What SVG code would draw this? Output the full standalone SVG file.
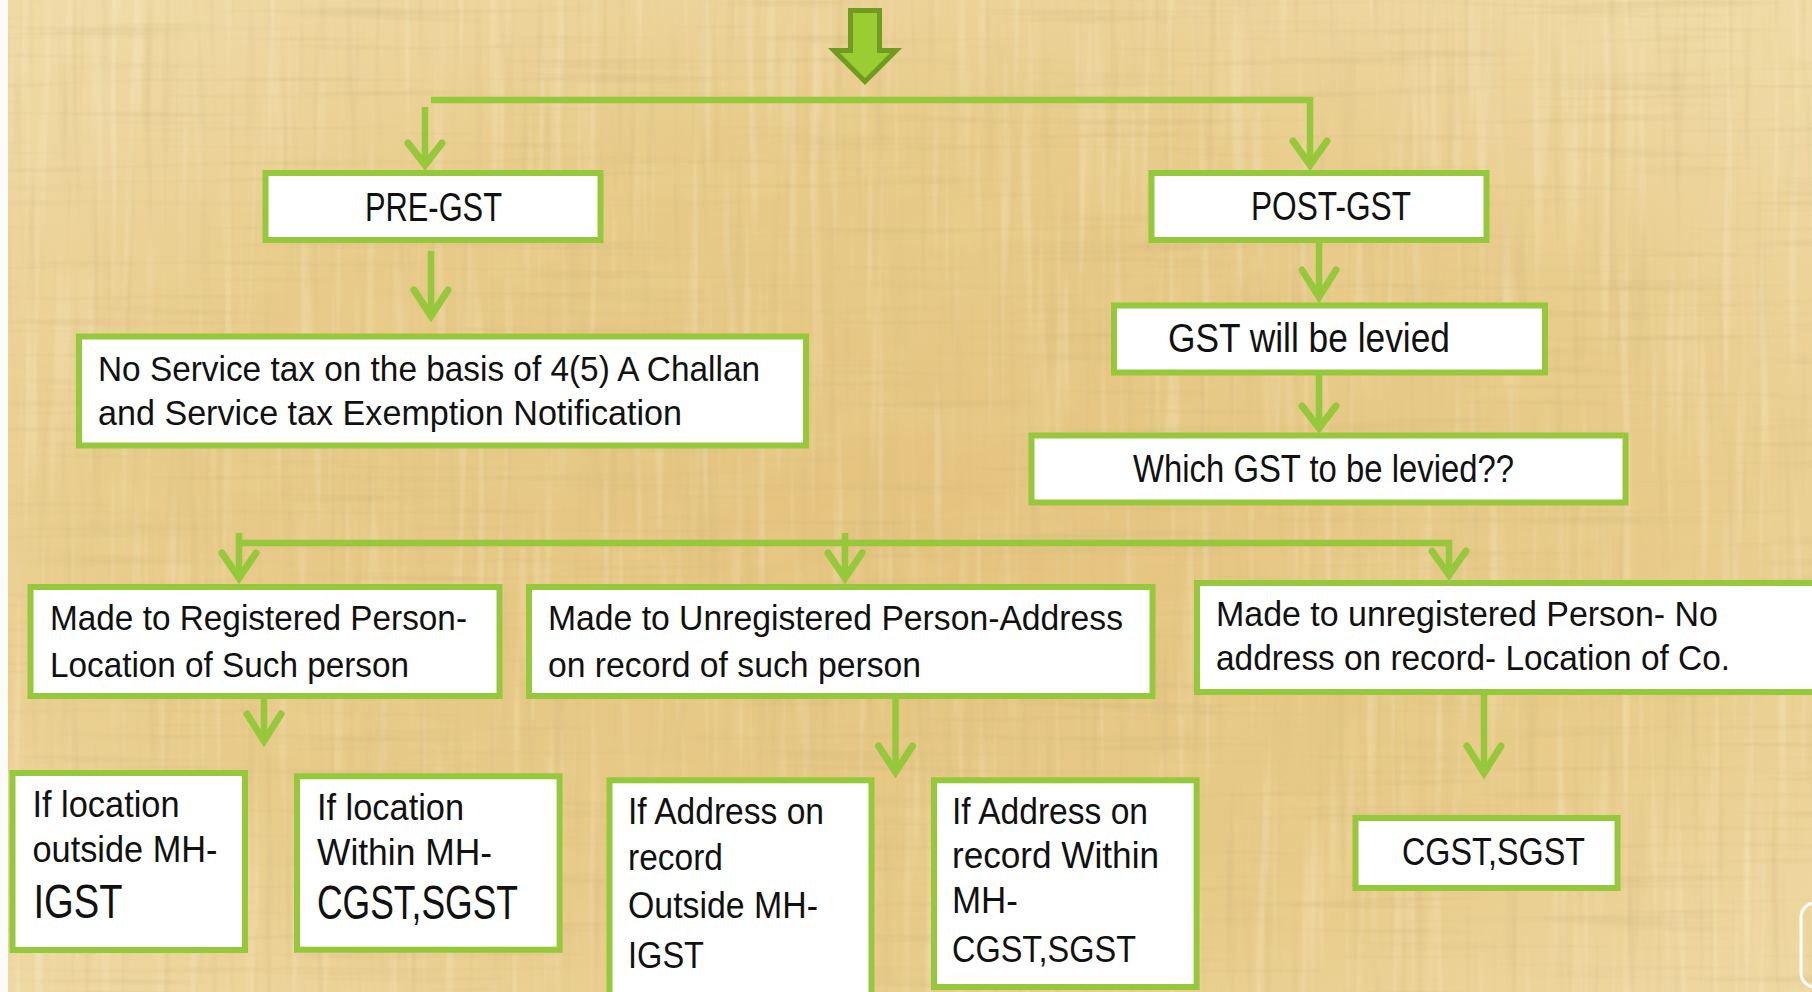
<svg xmlns="http://www.w3.org/2000/svg" width="1812" height="992" viewBox="0 0 1812 992">
<style>
.box{fill:#ffffff;stroke:#95c83a;stroke-width:6}
.t{font-family:"Liberation Sans",Arial,sans-serif;fill:#111111}
.ln{stroke:#95c83a;stroke-width:6.5;fill:none;stroke-linecap:butt}
.hd{stroke:#95c83a;stroke-width:7;fill:none;stroke-linecap:round;stroke-linejoin:miter;stroke-miterlimit:10}
</style>
<defs>
<radialGradient id="bg" cx="50%" cy="55%" r="70%">
<stop offset="0" stop-color="#e4c37d"/>
<stop offset="0.6" stop-color="#e8cb8a"/>
<stop offset="1" stop-color="#f0dba8"/>
</radialGradient>
<filter id="fibV" x="0" y="0" width="1812" height="992" filterUnits="userSpaceOnUse">
<feTurbulence type="fractalNoise" baseFrequency="0.11 0.005" numOctaves="2" seed="7"/>
<feColorMatrix type="matrix" values="0 0 0 0 0.62  0 0 0 0 0.48  0 0 0 0 0.22  1.7 0 0 0 -0.9"/>
</filter>
<filter id="fibL" x="0" y="0" width="1812" height="992" filterUnits="userSpaceOnUse">
<feTurbulence type="fractalNoise" baseFrequency="0.09 0.004" numOctaves="2" seed="19"/>
<feColorMatrix type="matrix" values="0 0 0 0 1  0 0 0 0 0.95  0 0 0 0 0.8  0 1.6 0 0 -0.85"/>
</filter>
<filter id="fibH" x="0" y="0" width="1812" height="992" filterUnits="userSpaceOnUse">
<feTurbulence type="fractalNoise" baseFrequency="0.004 0.12" numOctaves="2" seed="3"/>
<feColorMatrix type="matrix" values="0 0 0 0 0.6  0 0 0 0 0.46  0 0 0 0 0.2  0 0 1.6 0 -0.88"/>
</filter>
<filter id="blot" x="0" y="0" width="1812" height="992" filterUnits="userSpaceOnUse">
<feTurbulence type="fractalNoise" baseFrequency="0.012 0.02" numOctaves="3" seed="11"/>
<feColorMatrix type="matrix" values="0 0 0 0 0.85  0 0 0 0 0.66  0 0 0 0 0.3  1.5 0 0 0 -0.7"/>
</filter>
</defs>

<!-- background -->
<rect x="0" y="0" width="1812" height="992" fill="url(#bg)"/>
<rect x="0" y="0" width="1812" height="992" filter="url(#blot)" opacity="0.5"/>
<rect x="0" y="0" width="1812" height="992" filter="url(#fibV)" opacity="0.5"/>
<rect x="0" y="0" width="1812" height="992" filter="url(#fibL)" opacity="0.5"/>
<rect x="0" y="0" width="1812" height="992" filter="url(#fibH)" opacity="0.55"/>
<rect x="0" y="0" width="8" height="992" fill="#fbfbf8"/>
<rect x="1801" y="903" width="40" height="84" rx="14" fill="none" stroke="#ffffff" stroke-width="3"/>

<!-- top block arrow -->
<g id="start-arrow">
<polygon points="850.5,10.5 879.5,10.5 879.5,50.5 896,50.5 865,81.5 834,50.5 850.5,50.5" fill="#9acd32" stroke="#6e9b20" stroke-width="5" stroke-linejoin="miter"/>
</g>

<g id="connectors">
<line class="ln" x1="431" y1="100" x2="1313" y2="100"/>
<line class="ln" x1="425" y1="107" x2="425" y2="164"/>
<path class="hd" d="M408,143 L425,165 L442,143"/>
<line class="ln" x1="1310" y1="97" x2="1310" y2="164"/>
<path class="hd" d="M1293,141 L1310,165 L1327,141"/>
<line class="ln" x1="431" y1="251" x2="431" y2="315"/>
<path class="hd" d="M414,290 L431,316 L448,290"/>
<line class="ln" x1="1319" y1="243" x2="1319" y2="296"/>
<path class="hd" d="M1302,270 L1319,297 L1336,270"/>
<line class="ln" x1="1319" y1="375" x2="1319" y2="427"/>
<path class="hd" d="M1302,406 L1319,428 L1336,406"/>
<line class="ln" x1="236" y1="543" x2="1452" y2="543"/>
<line class="ln" x1="239" y1="533" x2="239" y2="577"/>
<path class="hd" d="M222,553 L239,578 L256,553"/>
<line class="ln" x1="845" y1="533" x2="845" y2="577"/>
<path class="hd" d="M828,553 L845,578 L862,553"/>
<line class="ln" x1="1449" y1="540" x2="1449" y2="574"/>
<path class="hd" d="M1432,551 L1449,575 L1466,551"/>
<line class="ln" x1="264" y1="693" x2="264" y2="740"/>
<path class="hd" d="M247,714 L264,741 L281,714"/>
<line class="ln" x1="895.5" y1="693" x2="895.5" y2="771"/>
<path class="hd" d="M878.5,746 L895.5,772 L912.5,746"/>
<line class="ln" x1="1484" y1="695" x2="1484" y2="772"/>
<path class="hd" d="M1467,746 L1484,773 L1501,746"/>
</g>

<g id="pre-gst">
<rect class="box" x="265.5" y="173" width="335" height="67"/>
<text class="t" x="365" y="221" font-size="40" textLength="137" lengthAdjust="spacingAndGlyphs">PRE-GST</text>
</g>

<g id="post-gst">
<rect class="box" x="1151.5" y="173" width="335" height="67"/>
<text class="t" x="1251" y="220" font-size="40" textLength="160" lengthAdjust="spacingAndGlyphs">POST-GST</text>
</g>

<g id="gst-levied">
<rect class="box" x="1114" y="305.5" width="431" height="67"/>
<text class="t" x="1168" y="352" font-size="40" textLength="282" lengthAdjust="spacingAndGlyphs">GST will be levied</text>
</g>

<g id="which-gst">
<rect class="box" x="1031.5" y="435.5" width="594" height="67"/>
<text class="t" x="1133" y="482" font-size="38" textLength="381" lengthAdjust="spacingAndGlyphs">Which GST to be levied??</text>
</g>

<g id="no-service-tax">
<rect class="box" x="79" y="336.5" width="727" height="109"/>
<text class="t" x="98" y="381" font-size="35" textLength="662" lengthAdjust="spacingAndGlyphs">No Service tax on the basis of 4(5) A Challan</text>
<text class="t" x="98" y="425" font-size="35" textLength="584" lengthAdjust="spacingAndGlyphs">and Service tax Exemption Notification</text>
</g>

<g id="registered">
<rect class="box" x="30.5" y="587" width="469" height="109"/>
<text class="t" x="50" y="630" font-size="35" textLength="417" lengthAdjust="spacingAndGlyphs">Made to Registered Person-</text>
<text class="t" x="50" y="677" font-size="35" textLength="359" lengthAdjust="spacingAndGlyphs">Location of Such person</text>
</g>

<g id="unregistered-address">
<rect class="box" x="529" y="587" width="623.5" height="109"/>
<text class="t" x="548" y="630" font-size="35" textLength="575" lengthAdjust="spacingAndGlyphs">Made to Unregistered Person-Address</text>
<text class="t" x="548" y="677" font-size="35" textLength="373" lengthAdjust="spacingAndGlyphs">on record of such person</text>
</g>

<g id="unregistered-no-address">
<rect class="box" x="1197" y="583" width="640" height="109"/>
<text class="t" x="1216" y="626" font-size="35" textLength="502" lengthAdjust="spacingAndGlyphs">Made to unregistered Person- No</text>
<text class="t" x="1216" y="670" font-size="35" textLength="514" lengthAdjust="spacingAndGlyphs">address on record- Location of Co.</text>
</g>

<g id="location-outside">
<rect class="box" x="12.5" y="773" width="232.5" height="177"/>
<text class="t" x="32.5" y="817" font-size="36" textLength="147" lengthAdjust="spacingAndGlyphs">If location</text>
<text class="t" x="32.5" y="862" font-size="36" textLength="185" lengthAdjust="spacingAndGlyphs">outside MH-</text>
<text class="t" x="33.5" y="918" font-size="48" textLength="89" lengthAdjust="spacingAndGlyphs">IGST</text>
</g>

<g id="location-within">
<rect class="box" x="297" y="776.3" width="262.6" height="173.4"/>
<text class="t" x="317" y="820" font-size="36" textLength="147" lengthAdjust="spacingAndGlyphs">If location</text>
<text class="t" x="317" y="865" font-size="36" textLength="175" lengthAdjust="spacingAndGlyphs">Within MH-</text>
<text class="t" x="317" y="919" font-size="48" textLength="201" lengthAdjust="spacingAndGlyphs">CGST,SGST</text>
</g>

<g id="address-outside">
<rect class="box" x="609.5" y="780.3" width="262" height="240"/>
<text class="t" x="628" y="824" font-size="37" textLength="196" lengthAdjust="spacingAndGlyphs">If Address on</text>
<text class="t" x="628" y="870" font-size="37" textLength="95" lengthAdjust="spacingAndGlyphs">record</text>
<text class="t" x="628" y="918" font-size="37" textLength="190" lengthAdjust="spacingAndGlyphs">Outside MH-</text>
<text class="t" x="628" y="968" font-size="37" textLength="76" lengthAdjust="spacingAndGlyphs">IGST</text>
</g>

<g id="address-within">
<rect class="box" x="934" y="780.3" width="262.6" height="206.7"/>
<text class="t" x="952" y="824" font-size="37" textLength="196" lengthAdjust="spacingAndGlyphs">If Address on</text>
<text class="t" x="952" y="868" font-size="37" textLength="207" lengthAdjust="spacingAndGlyphs">record Within</text>
<text class="t" x="952" y="913" font-size="37" textLength="66" lengthAdjust="spacingAndGlyphs">MH-</text>
<text class="t" x="952" y="962" font-size="37" textLength="184" lengthAdjust="spacingAndGlyphs">CGST,SGST</text>
</g>

<g id="no-address-result">
<rect class="box" x="1355.5" y="818" width="262" height="70"/>
<text class="t" x="1402" y="865" font-size="39" textLength="183" lengthAdjust="spacingAndGlyphs">CGST,SGST</text>
</g>
</svg>
